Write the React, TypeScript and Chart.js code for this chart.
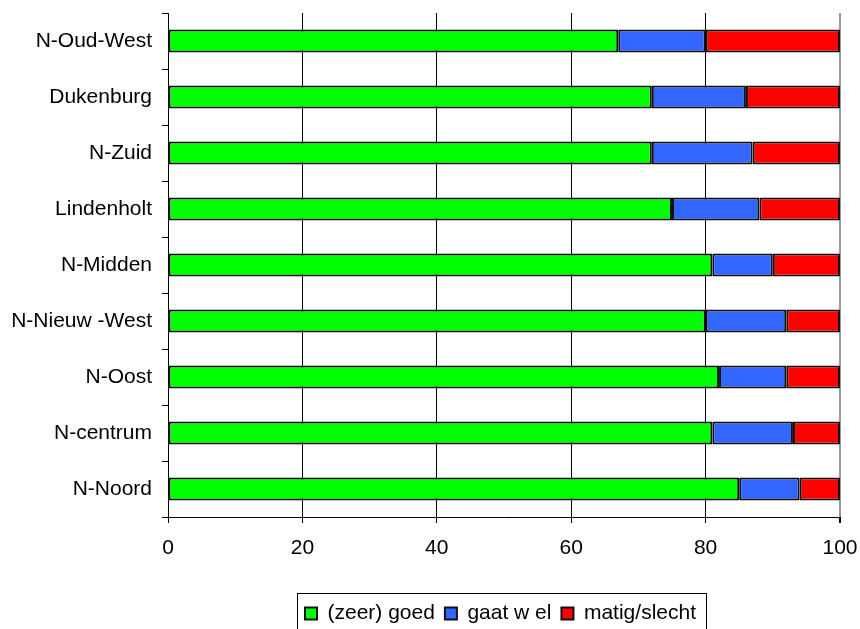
import React, { useEffect, useRef } from "react";
import { Chart, registerables } from "chart.js";

Chart.register(...registerables);

const categories = [
  "N-Oud-West",
  "Dukenburg",
  "N-Zuid",
  "Lindenholt",
  "N-Midden",
  "N-Nieuw -West",
  "N-Oost",
  "N-centrum",
  "N-Noord",
];
const seriesLabels = ["(zeer) goed", "gaat w el", "matig/slecht"];
const goed = [67, 72, 72, 75, 81, 80, 82, 81, 85];
const gaatWel = [13, 14, 15, 13, 9, 12, 10, 12, 9];
const matigSlecht = [20, 14, 13, 12, 10, 8, 8, 7, 6];
const xMin = 0;
const xMax = 100;
const xStep = 20;

const FONT = "'Liberation Sans', Arial, sans-serif";

const legendFrame = {
  id: "legendFrame",
  afterLayout(chart: any) {
    const l = chart.legend;
    if (!l) return;
    l.left = 161;
    l.right = 840;
  },
  afterDraw(chart: any) {
    const l = chart.legend;
    if (!l || !l.lineWidths) return;
    const pad = 10;
    const lw = l.lineWidths[0];
    const x0 = (l.left + pad + l.right - lw) / 2;
    const x1 = x0 + lw - pad;
    const ctx = chart.ctx;
    ctx.save();
    ctx.strokeStyle = "#000";
    ctx.lineWidth = 1;
    ctx.strokeRect(Math.round(x0 - 8) + 0.5, Math.round(l.top) + 0.5, Math.round(x1 - x0 + 18), 60);
    ctx.restore();
  },
};

export default function App() {
  const ref = useRef<HTMLCanvasElement>(null);
  useEffect(() => {
    if (!ref.current) return;
    Chart.defaults.font.family = FONT;
    const chart = new Chart(ref.current, {
      type: "bar",
      data: {
        labels: categories,
        datasets: [
          { label: seriesLabels[0], data: goed, backgroundColor: "#00FF00" },
          { label: seriesLabels[1], data: gaatWel, backgroundColor: "#3366FF" },
          { label: seriesLabels[2], data: matigSlecht, backgroundColor: "#FF0000" },
        ].map((d) => ({
          ...d,
          borderColor: "#111",
          borderWidth: 2,
          borderSkipped: false,
          barPercentage: 0.41,
          categoryPercentage: 1,
        })),
      },
      options: {
        indexAxis: "y",
        responsive: false,
        animation: false,
        layout: { padding: { top: 13, left: 0, right: 20, bottom: -5 } },
        plugins: {
          tooltip: { enabled: false },
          legend: {
            position: "bottom",
            labels: {
              font: { size: 21, family: FONT },
              color: "#000",
              boxWidth: 12,
              boxHeight: 12,
              padding: 10,
            },
          },
        },
        scales: {
          x: {
            type: "linear",
            stacked: true,
            min: xMin,
            max: xMax,
            ticks: { stepSize: xStep, font: { size: 21, family: FONT }, color: "#000", padding: 13 },
            grid: {
              color: (c: any) => (c.tick && c.tick.value === xMax ? "#999" : "#000"),
              lineWidth: (c: any) => (c.tick && c.tick.value === xMax ? 2 : 1),
              tickColor: "#000",
              tickLength: 6,
            },
            border: { color: "#000", width: 1 },
            afterFit(s: any) {
              s.height = 76;
              s.paddingLeft = 0;
              s.paddingRight = 0;
            },
          },
          y: {
            type: "category",
            stacked: true,
            ticks: { font: { size: 21, family: FONT }, color: "#000", padding: 10 },
            grid: { drawOnChartArea: false, color: "#000", tickLength: 6, offset: true },
            border: { color: "#000", width: 1 },
            afterFit(s: any) {
              s.width = 168;
              s.paddingTop = 0;
              s.paddingBottom = 0;
            },
          },
        },
      },
      plugins: [legendFrame],
    } as any);
    return () => chart.destroy();
  }, []);
  return (
    <div style={{ position: "absolute", left: 0, top: 0, width: 860, height: 629 }}>
      <canvas ref={ref} width={860} height={629} style={{ display: "block" }} />
    </div>
  );
}
